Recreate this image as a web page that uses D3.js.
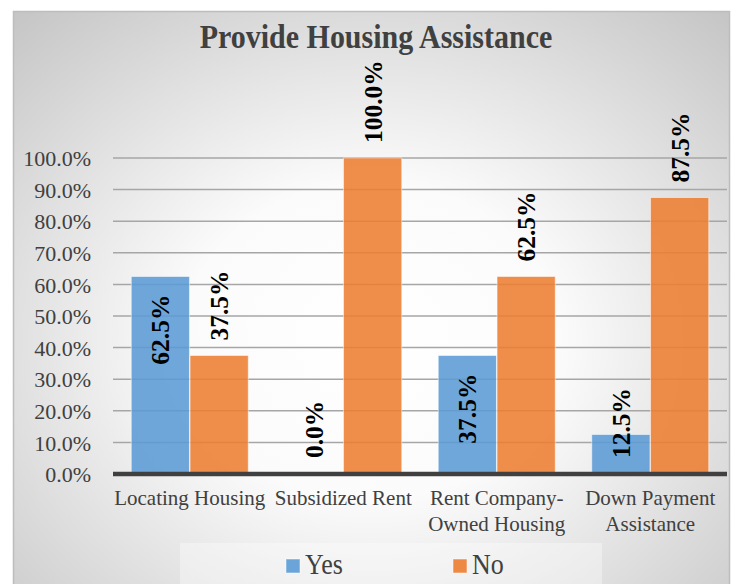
<!DOCTYPE html>
<html>
<head>
<meta charset="utf-8">
<script src="https://cdn.jsdelivr.net/npm/d3@7"></script>
<style>
  body { margin: 0; background: #fff; }
  svg text { font-family: "Liberation Serif", "Times New Roman", serif; }
</style>
</head>
<body>
<svg id="chart" width="736" height="584"></svg>
<script>
// chart data
var categories = [["Locating Housing"], ["Subsidized Rent"], ["Rent Company-", "Owned Housing"], ["Down Payment", "Assistance"]];
var series = ["Yes", "No"];
var yesValues = [62.5, 0.0, 37.5, 12.5];
var noValues = [37.5, 100.0, 62.5, 87.5];
var yTicks = [0, 10, 20, 30, 40, 50, 60, 70, 80, 90, 100];
var colors = {"Yes": "#5b9bd5", "No": "#ed7d31"};

var svg = d3.select("#chart");

// background with soft radial shading
var defs = svg.append("defs");
var grad = defs.append("radialGradient")
  .attr("id", "bg")
  .attr("cx", "0.5").attr("cy", "0.55").attr("r", "0.75");
grad.append("stop").attr("offset", "0%").attr("stop-color", "#ffffff");
grad.append("stop").attr("offset", "35%").attr("stop-color", "#fbfbfb");
grad.append("stop").attr("offset", "100%").attr("stop-color", "#c4c4c4");

svg.append("rect")
  .attr("x", 13.5).attr("y", 11.5)
  .attr("width", 716).attr("height", 600)
  .attr("fill", "url(#bg)")
  .attr("stroke", "#bdbdbd").attr("stroke-width", 1.5);

var plotLeft = 113, plotRight = 727, plotTop = 158, plotBottom = 474;

var x0 = d3.scaleBand()
  .domain(d3.range(categories.length))
  .range([plotLeft, plotRight]);
var barsWidth = 117;
var x1 = d3.scaleBand()
  .domain(series)
  .range([(x0.bandwidth() - barsWidth) / 2, (x0.bandwidth() + barsWidth) / 2])
  .paddingInner(0.01);
var y = d3.scaleLinear().domain([0, 100]).range([plotBottom, plotTop]);

// title (glyphs a little taller than wide, like the original)
svg.append("text")
  .attr("transform", "translate(376,48) scale(1,1.1)")
  .attr("text-anchor", "middle")
  .attr("font-size", 30).attr("font-weight", "bold")
  .attr("fill", "#404040")
  .text("Provide Housing Assistance");

// grid lines
svg.append("g")
  .selectAll("line")
  .data(yTicks.filter(function(d) { return d > 0; }))
  .enter().append("line")
  .attr("x1", plotLeft).attr("x2", plotRight)
  .attr("y1", function(d) { return y(d); })
  .attr("y2", function(d) { return y(d); })
  .attr("stroke", "#a6a6a6").attr("stroke-width", 1.5);

// y axis
var yAxis = svg.append("g")
  .attr("transform", "translate(" + (plotLeft - 22) + ",0)")
  .call(d3.axisLeft(y).tickValues(yTicks).tickSize(0).tickFormat(function(d) { return d.toFixed(1) + "%"; }));
yAxis.select(".domain").remove();
yAxis.selectAll("text")
  .attr("font-size", 22).attr("fill", "#404040")
  .attr("x", 0).attr("dy", "0.35em");

// bars
var rows = series.map(function(s) {
  var vals = s == "Yes" ? yesValues : noValues;
  return vals.map(function(v, i) { return {series: s, cat: i, value: v}; });
});
var flat = d3.merge(rows);

svg.append("g")
  .selectAll("rect")
  .data(flat)
  .enter().append("rect")
  .attr("x", function(d) { return x0(d.cat) + x1(d.series); })
  .attr("y", function(d) { return y(d.value); })
  .attr("width", x1.bandwidth())
  .attr("height", function(d) { return plotBottom - y(d.value); })
  .attr("fill", function(d) { return colors[d.series]; })
  .attr("fill-opacity", 0.88)
  .attr("stroke", "#ffffff").attr("stroke-opacity", 0.5).attr("stroke-width", 1);

// x axis line
svg.append("line")
  .attr("x1", plotLeft).attr("x2", plotRight)
  .attr("y1", plotBottom).attr("y2", plotBottom)
  .attr("stroke", "#404040").attr("stroke-width", 4.5);

// data labels
var labels = svg.append("g")
  .selectAll("text")
  .data(flat)
  .enter().append("text")
  .attr("font-size", 25.5).attr("font-weight", "bold")
  .attr("fill", "#000")
  .attr("dy", "0.35em")
  .text(function(d) { return d.value.toFixed(1) + "%"; });

labels.each(function(d) {
  var t = d3.select(this);
  var len = this.getComputedTextLength();
  var cx = x0(d.cat) + x1(d.series) + x1.bandwidth() / 2;
  var barTop = y(d.value);
  var yy, anchor;
  if (d.series == "No") {
    yy = barTop - 15; anchor = "start";
  } else if (barTop + 18 + len <= plotBottom - 16) {
    yy = barTop + 18; anchor = "end";
  } else {
    yy = plotBottom - 16; anchor = "start";
  }
  t.attr("text-anchor", anchor)
    .attr("transform", "translate(" + cx + "," + yy + ") rotate(-90)");
});

// category labels
svg.append("g")
  .selectAll("text")
  .data(categories)
  .enter().append("text")
  .attr("text-anchor", "middle")
  .attr("font-size", 21).attr("fill", "#404040")
  .attr("x", function(d, i) { return x0(i) + x0.bandwidth() / 2; })
  .attr("y", 505)
  .selectAll("tspan")
  .data(function(d) { return d; })
  .enter().append("tspan")
  .attr("x", function() { return d3.select(this.parentNode).attr("x"); })
  .attr("dy", function(d, i) { return i == 0 ? 0 : 26; })
  .text(function(d) { return d; });

// legend
svg.append("rect")
  .attr("x", 180).attr("y", 543)
  .attr("width", 422).attr("height", 45)
  .attr("fill", "#ffffff").attr("fill-opacity", 0.35);

var legend = svg.append("g")
  .selectAll("g")
  .data(series)
  .enter().append("g")
  .attr("transform", function(d, i) { return "translate(" + (286 + i * 167) + ",559)"; });
legend.append("rect")
  .attr("width", 14).attr("height", 14)
  .attr("fill", function(d) { return colors[d]; })
  .attr("fill-opacity", 0.9)
  .attr("stroke", "#ffffff").attr("stroke-opacity", 0.5);
legend.append("text")
  .attr("transform", "translate(19,15) scale(1,1.12)")
  .attr("font-size", 26).attr("font-weight", "normal").attr("fill", "#404040")
  .text(function(d) { return d; });
</script>
</body>
</html>
